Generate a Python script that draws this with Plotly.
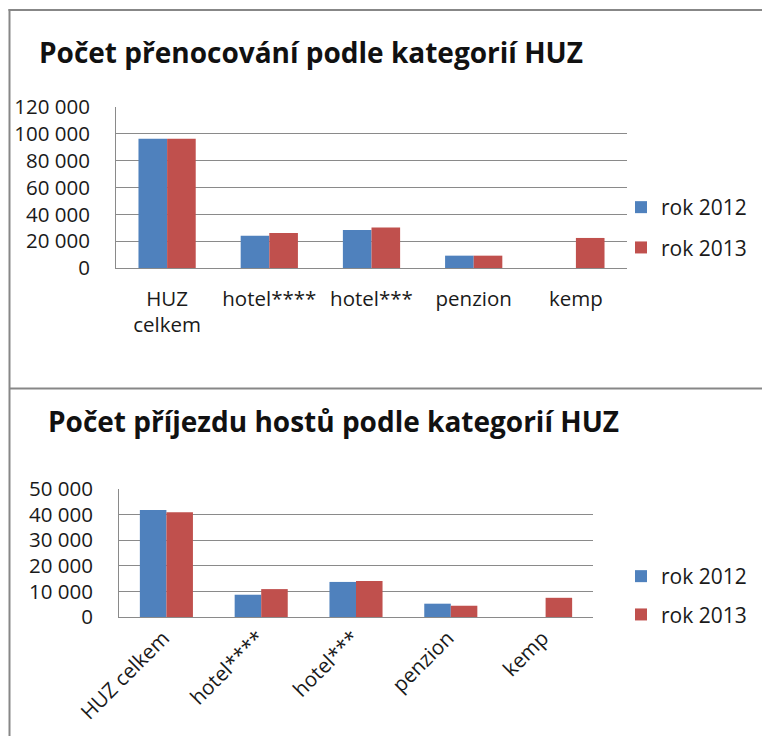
import plotly.graph_objects as go

# Categories of accommodation facilities (HUZ)
categories = ["HUZ<br>celkem", "hotel****", "hotel***", "penzion", "kemp"]
categories_b = ["HUZ celkem", "hotel****", "hotel***", "penzion", "kemp"]
years = ["rok 2012", "rok 2013"]

# Overnight stays by category
nights_2012 = [96300, 24000, 28400, 9200, None]
nights_2013 = [96400, 26100, 30100, 9200, 22400]

# Guest arrivals by category
arrivals_2012 = [41800, 8700, 13700, 5200, None]
arrivals_2013 = [40900, 10900, 14100, 4400, 7500]

blue = "#4F81BD"
red = "#C0504D"
grid = "#8A8A8A"
font = "Open Sans, sans-serif"
W, H = 762, 736


def px_x(x):
    return x / W


def px_y(y):
    return 1 - y / H


fig = go.Figure()

fig.add_trace(go.Bar(x=categories, y=nights_2012, name=years[0], marker_color=blue,
                     xaxis="x", yaxis="y", legend="legend", legendgroup="a"))
fig.add_trace(go.Bar(x=categories, y=nights_2013, name=years[1], marker_color=red,
                     xaxis="x", yaxis="y", legend="legend", legendgroup="b"))
fig.add_trace(go.Bar(x=categories_b, y=arrivals_2012, name=years[0], marker_color=blue,
                     xaxis="x2", yaxis="y2", legend="legend2", legendgroup="c"))
fig.add_trace(go.Bar(x=categories_b, y=arrivals_2013, name=years[1], marker_color=red,
                     xaxis="x2", yaxis="y2", legend="legend2", legendgroup="d"))

fig.update_traces(marker_line_width=0, hoverinfo="skip")

tickfont = dict(family=font, size=20.5, color="#1a1a1a")
yaxis_common = dict(
    showgrid=True, gridcolor=grid, gridwidth=1, tickformat=",d",
    showline=True, linecolor=grid, linewidth=1, ticks="", tickfont=tickfont,
    zeroline=False, ticklabelstandoff=21, fixedrange=True, automargin=False,
)
xaxis_common = dict(
    showline=True, linecolor=grid, linewidth=1, ticks="", tickfont=tickfont,
    showgrid=False, fixedrange=True, automargin=False,
)

legend_common = dict(
    font=dict(family=font, size=21, color="#1a1a1a"),
    bgcolor="rgba(0,0,0,0)", borderwidth=0,
    xanchor="left", yanchor="top", itemclick=False, itemdoubleclick=False,
)

fig.update_layout(
    template="none",
    width=W, height=H,
    margin=dict(l=0, r=0, t=0, b=0, autoexpand=False),
    paper_bgcolor="white", plot_bgcolor="white",
    separators=", ",
    barmode="group", bargap=0.44, bargroupgap=0,
    showlegend=True,
    xaxis=dict(domain=[px_x(116), px_x(627)], anchor="y", ticklabelstandoff=12,
               **xaxis_common),
    yaxis=dict(domain=[px_y(268), px_y(107)], anchor="x", range=[0, 120000],
               dtick=20000, **yaxis_common),
    xaxis2=dict(domain=[px_x(119), px_x(593)], anchor="y2", tickangle=-45,
                ticklabelstandoff=0, ticklabelshift=-3, **xaxis_common),
    yaxis2=dict(domain=[px_y(617), px_y(489)], anchor="x2", range=[0, 50000],
                dtick=10000, **yaxis_common),
    legend=dict(x=px_x(621), y=px_y(187), tracegroupgap=10, **legend_common),
    legend2=dict(x=px_x(621), y=px_y(556), tracegroupgap=8, **legend_common),
)

title_font = dict(family=font, size=28, color="#111111")
fig.add_annotation(text="<b>Počet přenocování podle kategorií HUZ</b>",
                   xref="paper", yref="paper", x=px_x(37), y=px_y(52),
                   xanchor="left", yanchor="middle", showarrow=False, font=title_font)
fig.add_annotation(text="<b>Počet příjezdu hostů podle kategorií HUZ</b>",
                   xref="paper", yref="paper", x=px_x(46), y=px_y(421),
                   xanchor="left", yanchor="middle", showarrow=False, font=title_font)

# Chart frames
frame = dict(color="#878787", width=2)
fig.add_shape(type="line", xref="paper", yref="paper",
              x0=px_x(9.5), x1=px_x(9.5), y0=px_y(9), y1=px_y(736), line=frame)
fig.add_shape(type="line", xref="paper", yref="paper",
              x0=px_x(8.5), x1=1, y0=px_y(10), y1=px_y(10), line=frame)
fig.add_shape(type="line", xref="paper", yref="paper",
              x0=px_x(9.5), x1=1, y0=px_y(388.5), y1=px_y(388.5), line=frame)

fig.write_html("out.html", config={"displayModeBar": False})
